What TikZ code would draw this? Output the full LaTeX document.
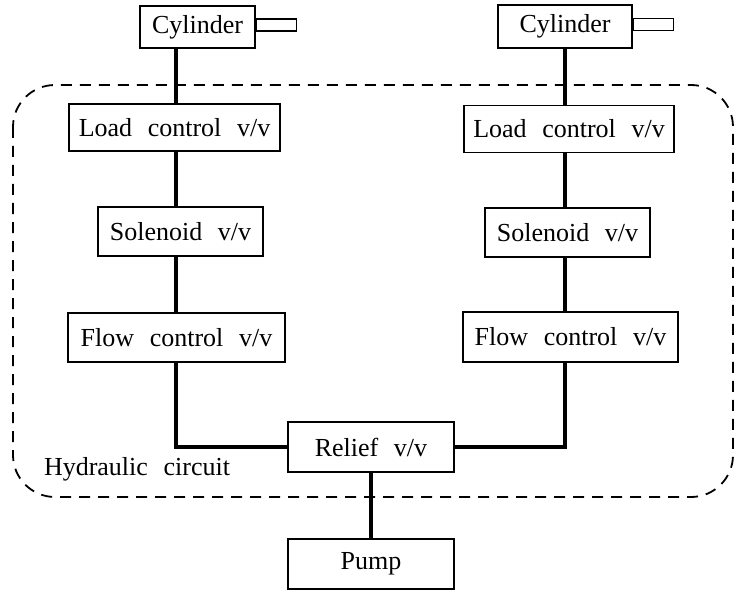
\documentclass[tikz,border=0pt]{standalone}
\usepackage{fontspec}
\setmainfont{Liberation Serif}
\usetikzlibrary{positioning}

\newcommand\blkfont{\fontsize{26}{30}\selectfont\spaceskip=0.6em\relax}

\tikzset{
  blk/.style={draw, line width=1.4pt, minimum height=47pt, inner sep=0pt, font=\blkfont},
  rod/.style={draw, line width=1.4pt, minimum width=40pt, minimum height=12pt, inner sep=0pt},
  pipe/.style={line width=4pt},
  region/.style={line width=1.8pt, dash pattern=on 11pt off 8pt, rounded corners=42pt},
}

\begin{document}
\begin{tikzpicture}[x=1pt,y=-1pt]
  \useasboundingbox (0,0) rectangle (734,591);
  % hydraulic circuit boundary
  \draw[region] (13,85) rectangle (733,497);
  \node at (137,469) [font=\blkfont] (hyd) {Hydraulic circuit};

  % left branch
  \node at (197.5,27) [blk,minimum width=115pt,minimum height=42pt] (cylL) {Cylinder};
  \node [rod,right=0pt of cylL,yshift=2pt] (rodL) {};
  \node at (174.5,127.5) [blk,minimum width=211pt] (loadL) {Load control v/v};
  \node at (180.5,231.5) [blk,minimum width=165pt,minimum height=49pt] (solL) {Solenoid v/v};
  \node at (176.5,337.5) [blk,minimum width=217pt,minimum height=49pt] (flowL) {Flow control v/v};

  % right branch
  \node at (565,26.5) [blk,minimum width=134pt,minimum height=43pt] (cylR) {Cylinder};
  \node [rod,right=0pt of cylR,yshift=2pt] (rodR) {};
  \node at (569,129) [blk,minimum width=210pt] (loadR) {Load control v/v};
  \node at (567.5,232.5) [blk,minimum width=165pt,minimum height=49pt] (solR) {Solenoid v/v};
  \node at (570.5,337) [blk,minimum width=215pt,minimum height=50pt] (flowR) {Flow control v/v};

  % supply
  \node at (371,447) [blk,minimum width=166pt,minimum height=50pt] (relief) {Relief v/v};
  \node at (371,564) [blk,minimum width=166pt,minimum height=50pt] (pump) {Pump};

  \coordinate (colL) at (176,0);
  \coordinate (colR) at (565,0);

  \draw[pipe] (cylL.south -| colL) -- (loadL.north -| colL);
  \draw[pipe] (loadL.south -| colL) -- (solL.north -| colL);
  \draw[pipe] (solL.south -| colL) -- (flowL.north -| colL);
  \draw[pipe] (flowL.south -| colL) |- (relief.west);

  \draw[pipe] (cylR.south -| colR) -- (loadR.north -| colR);
  \draw[pipe] (loadR.south -| colR) -- (solR.north -| colR);
  \draw[pipe] (solR.south -| colR) -- (flowR.north -| colR);
  \draw[pipe] (flowR.south -| colR) |- (relief.east);

  \draw[pipe] (relief.south) -- (pump.north);
\end{tikzpicture}
\end{document}
